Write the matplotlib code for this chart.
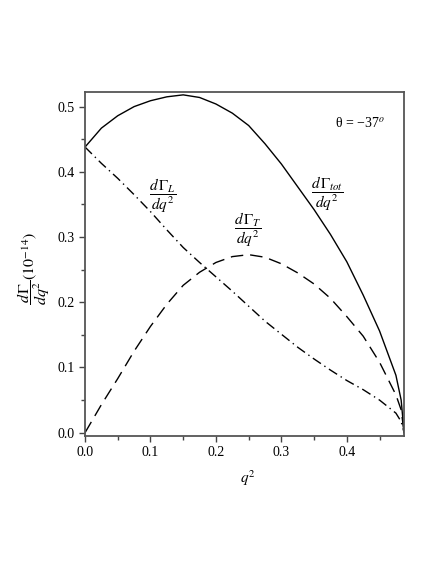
import matplotlib
matplotlib.use('Agg')
import matplotlib.pyplot as plt
from matplotlib.ticker import MultipleLocator

plt.rcParams['font.family'] = ['Liberation Serif', 'DejaVu Serif']
plt.rcParams['mathtext.fontset'] = 'stix'

# q^2 grid and the three rates (units of 1e-14)
q2 = [0.0, 0.025, 0.05, 0.075, 0.1, 0.125, 0.15, 0.175, 0.2, 0.225, 0.25,
      0.275, 0.3, 0.325, 0.35, 0.375, 0.4, 0.425, 0.45, 0.475, 0.483, 0.4875]
gamma_tot = [0.438, 0.467, 0.486, 0.500, 0.509, 0.515, 0.518, 0.514, 0.504, 0.490, 0.471,
             0.443, 0.412, 0.377, 0.342, 0.304, 0.262, 0.211, 0.156, 0.088, 0.050, 0.0]
gamma_T = [0.0, 0.043, 0.083, 0.125, 0.163, 0.197, 0.226, 0.246, 0.261, 0.270, 0.273,
           0.269, 0.259, 0.245, 0.228, 0.206, 0.178, 0.148, 0.108, 0.058, 0.035, 0.0]
gamma_L = [0.438, 0.413, 0.390, 0.365, 0.339, 0.311, 0.284, 0.261, 0.239, 0.217, 0.194,
           0.171, 0.151, 0.131, 0.113, 0.096, 0.080, 0.066, 0.050, 0.030, 0.017, 0.0]

fig = plt.figure(figsize=(4.36, 5.64), dpi=100)
ax = fig.add_axes([0.195, 0.227, 0.732, 0.610])

ax.plot(q2, gamma_tot, color='black', lw=1.0, ls='-')
ax.plot(q2, gamma_T, color='black', lw=1.0, ls=(0, (9, 5)))
ax.plot(q2, gamma_L, color='black', lw=1.0, ls=(0, (7, 3, 1, 3)))

ax.set_xlim(0, 0.4876)
ax.set_ylim(-0.005, 0.5225)
ax.xaxis.set_major_locator(MultipleLocator(0.1))
ax.xaxis.set_minor_locator(MultipleLocator(0.05))
ax.yaxis.set_major_locator(MultipleLocator(0.1))
ax.yaxis.set_minor_locator(MultipleLocator(0.05))
ax.tick_params(which='both', direction='out', top=False, right=False,
               labelsize=10, color='#444444')
ax.tick_params(which='major', length=4, width=1.0)
ax.tick_params(which='minor', length=3, width=1.0)
for s in ax.spines.values():
    s.set_color('#555555')
    s.set_linewidth(1.3)
ax.xaxis.set_major_formatter(plt.FuncFormatter(lambda v, p: f'{v:.1f}'))
ax.yaxis.set_major_formatter(plt.FuncFormatter(lambda v, p: f'{v:.1f}'))

ax.set_xlabel(r'$q^2$', fontsize=11)
ax.xaxis.set_label_coords(0.511, -0.093)
ax.set_ylabel(r'$\dfrac{d\,\Gamma}{dq^2}(10^{-14})$', fontsize=11.5, va='center')
ax.yaxis.set_label_coords(-0.16, 0.488)

ax.text(0.42, 0.475, 'θ = −37$^o$', fontsize=10, ha='center', va='center')
ax.text(0.119, 0.364, r'$\dfrac{d\,\Gamma_L}{dq^2}$', fontsize=11, ha='center', va='center')
ax.text(0.248, 0.311, r'$\dfrac{d\,\Gamma_T}{dq^2}$', fontsize=11, ha='center', va='center')
ax.text(0.370, 0.367, r'$\dfrac{d\,\Gamma_{tot}}{dq^2}$', fontsize=11, ha='center', va='center')

fig.savefig('out.png', dpi=100)
